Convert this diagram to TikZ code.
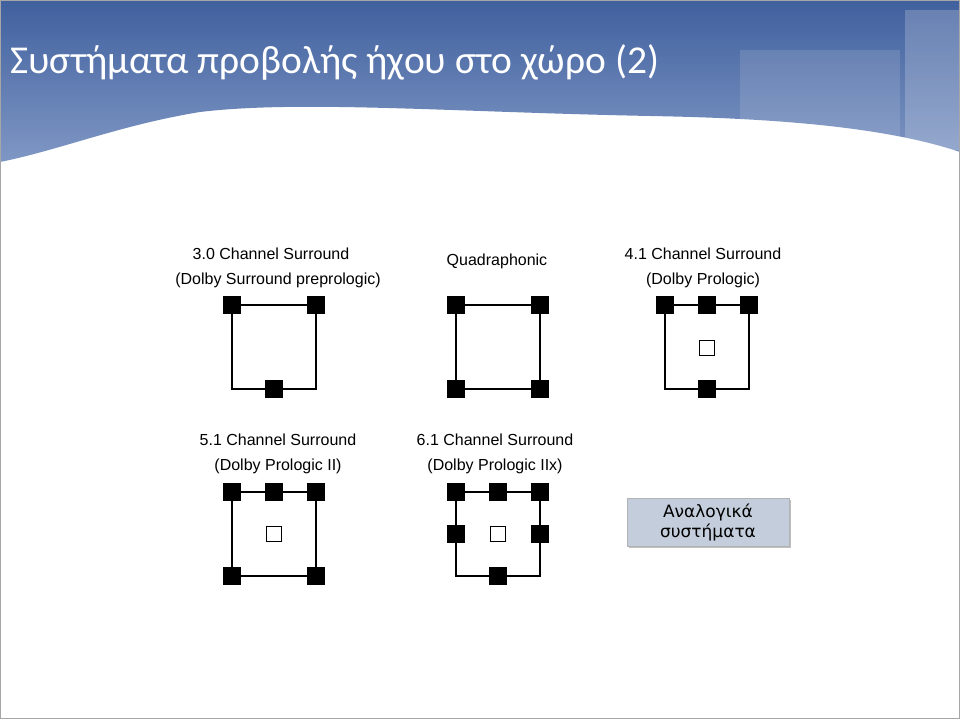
\documentclass[tikz,border=0pt]{standalone}
\usepackage{fontspec}
\setmainfont{Liberation Sans}
\newfontfamily\titlefont{Carlito}
\newfontfamily\btnfont{DejaVu Sans}
\usetikzlibrary{shadows}
\definecolor{hdrA}{HTML}{40609E}
\definecolor{hdrB}{HTML}{7F97C4}
\definecolor{btn}{HTML}{C3CDDB}
\begin{document}
\begin{tikzpicture}[x=1pt,y=-1pt,
  spk/.style={draw=black,fill=black,minimum size=17pt,inner sep=0pt},
  hol/.style={draw=black,fill=white,line width=0.8pt,minimum size=15pt,inner sep=0pt},
  room/.style={draw=black,line width=1.2pt},
  lbl/.style={font=\fontsize{16}{19}\selectfont,inner sep=0pt}]
\useasboundingbox (0,0) rectangle (960,719);
\fill[white] (0,0) rectangle (960,719);
\shade[top color=hdrA,bottom color=hdrB] (0,0) -- (960,0) -- (960,152) .. controls (880,125) and (760,118) .. (650,116) .. controls (450,112) and (300,100) .. (200,112) .. controls (120,125) and (60,150) .. (0,162) -- cycle;
\fill[white,opacity=0.2] (905,10) rectangle (960,150);
\fill[white,opacity=0.12] (740,50) rectangle (900,150);
\draw[gray!70,line width=1pt] (0.5,0.5) rectangle (959.5,718.5);
\node[anchor=west,text=white,font=\titlefont\fontsize{39.5}{46}\selectfont,inner sep=0pt] (title) at (10,62) {Συστήματα προβολής ήχου στο χώρο (2)};
% labels
\node[lbl] (t1a) at (271,254) {3.0 Channel Surround};
\node[lbl] (t1b) at (278,280) {(Dolby Surround preprologic)};
\node[lbl] (t2) at (497,261) {Quadraphonic};
\node[lbl] (t3a) at (703,254) {4.1 Channel Surround};
\node[lbl] (t3b) at (703,280) {(Dolby Prologic)};
\node[lbl] (t4a) at (278,440) {5.1 Channel Surround};
\node[lbl] (t4b) at (278,466) {(Dolby Prologic II)};
\node[lbl] (t5a) at (495,440) {6.1 Channel Surround};
\node[lbl] (t5b) at (495,466) {(Dolby Prologic IIx)};
% rooms
\draw[room] (232,305) rectangle (316,389);
\draw[room] (456,305) rectangle (540,389);
\draw[room] (665,305) rectangle (749,389);
\draw[room] (232,492) rectangle (316,576);
\draw[room] (456,492) rectangle (540,576);
% diagram 1
\node[spk] (a1) at (232,305) {};
\node[spk] (a2) at (316,305) {};
\node[spk] (a3) at (274,389) {};
% diagram 2
\node[spk] (b1) at (456,305) {};
\node[spk] (b2) at (540,305) {};
\node[spk] (b3) at (456,389) {};
\node[spk] (b4) at (540,389) {};
% diagram 3
\node[spk] (c1) at (665,305) {};
\node[spk] (c2) at (707,305) {};
\node[spk] (c3) at (749,305) {};
\node[spk] (c4) at (707,389) {};
\node[hol] (c5) at (707,348) {};
% diagram 4
\node[spk] (d1) at (232,492) {};
\node[spk] (d2) at (274,492) {};
\node[spk] (d3) at (316,492) {};
\node[spk] (d4) at (232,576) {};
\node[spk] (d5) at (316,576) {};
\node[hol] (d6) at (274,534) {};
% diagram 5
\node[spk] (e1) at (456,492) {};
\node[spk] (e2) at (498,492) {};
\node[spk] (e3) at (540,492) {};
\node[spk] (e4) at (456,534) {};
\node[spk] (e5) at (540,534) {};
\node[spk] (e6) at (498,576) {};
\node[hol] (e7) at (498,534) {};
% button
\node[fill=btn,draw=gray!60,minimum width=162pt,minimum height=48pt,align=center,
  font=\btnfont\fontsize{17}{20}\selectfont,drop shadow={shadow xshift=2pt,shadow yshift=-2pt,opacity=0.5}] (btnn) at (708,522) {Αναλογικά\\συστήματα};
\end{tikzpicture}
\end{document}
